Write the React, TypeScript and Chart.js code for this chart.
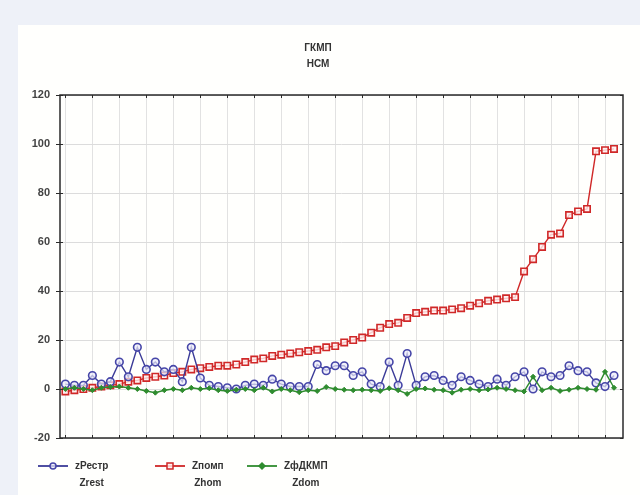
import React, { useEffect, useRef } from 'react';
import { Chart, registerables } from 'chart.js';

Chart.register(...registerables);

const titleLines = ['ГКМП', 'НСМ'];

const cases = [
  1, 2, 3, 4, 5, 6, 7, 8, 9, 10, 11, 12, 13, 14, 15, 16, 17, 18, 19, 20,
  21, 22, 23, 24, 25, 26, 27, 28, 29, 30, 31, 32, 33, 34, 35, 36, 37, 38, 39, 40,
  41, 42, 43, 44, 45, 46, 47, 48, 49, 50, 51, 52, 53, 54, 55, 56, 57, 58, 59, 60,
  61, 62,
];

const zRest = [
  2, 1.5, 1.5, 5.5, 2, 3, 11, 5, 17, 8, 11, 7, 8, 3, 17, 4.5, 1.5, 1, 0.5, 0,
  1.5, 2, 1.5, 4, 2, 1, 1, 1, 10, 7.5, 9.5, 9.5, 5.5, 7, 2, 1, 11, 1.5, 14.5, 1.5,
  5, 5.5, 3.5, 1.5, 5, 3.5, 2, 1, 4, 1.5, 5, 7, 0, 7, 5, 5.5, 9.5, 7.5, 7, 2.5,
  1, 5.5,
];

const zHom = [
  -1, -0.5, 0, 0.5, 1, 1.5, 2, 3, 3.5, 4.5, 5, 5.5, 6.5, 7, 8, 8.5, 9, 9.5, 9.5, 10,
  11, 12, 12.5, 13.5, 14, 14.5, 15, 15.5, 16, 17, 17.5, 19, 20, 21, 23, 25, 26.5, 27, 29, 31,
  31.5, 32, 32, 32.5, 33, 34, 35, 36, 36.5, 37, 37.5, 48, 53, 58, 63, 63.5, 71, 72.5, 73.5, 97,
  97.5, 98,
];

const zDom = [
  0, 0.5, 0, -0.5, 0.5, 0.8, 1, 0.5, 0, -0.8, -1.5, -0.5, 0, -0.5, 0.5, 0, 0.3, -0.5, -0.8, -0.3,
  0, -0.5, 0.5, -1, 0, -0.5, -1.3, -0.5, -0.8, 0.8, 0, -0.3, -0.5, -0.3, -0.5, -0.8, 0.3, -0.5, -2, 0,
  0.2, -0.3, -0.5, -1.5, -0.3, 0, -0.5, -0.2, 0.5, 0, -0.5, -1, 5, -0.5, 0.5, -0.8, -0.3, 0.5, 0, -0.3,
  7, 0.5,
];

const seriesNames = [
  ['zРестр', 'Zrest'],
  ['Zпомп', 'Zhom'],
  ['ZфДКМП', 'Zdom'],
];

const yMin = -20;
const yMax = 120;
const yStep = 20;
const xTickEvery = 3;

const BLUE = '#3b3b98';
const RED = '#d02828';
const GREEN = '#2f8c2f';
const FONT = '"Liberation Sans", Arial, sans-serif';

export default function App() {
  const ref = useRef<HTMLCanvasElement>(null);

  useEffect(() => {
    if (!ref.current) return;

    const bgPlugin = {
      id: 'bg',
      beforeDraw(chart: any) {
        const { ctx, width, height } = chart;
        ctx.save();
        ctx.fillStyle = '#eef1f8';
        ctx.fillRect(0, 0, width, height);
        ctx.fillStyle = '#fffffd';
        ctx.fillRect(18, 25, width - 18, height - 25);
        ctx.restore();
      },
    };

    const framePlugin = {
      id: 'frame',
      afterDraw(chart: any) {
        const { ctx } = chart;
        const { left, right, top, bottom } = chart.chartArea;
        const xs = chart.scales.x;
        const ys = chart.scales.y;
        ctx.save();
        ctx.strokeStyle = '#2a2a2a';
        ctx.lineWidth = 1.5;
        ctx.strokeRect(left, top, right - left, bottom - top);
        ctx.lineWidth = 1;
        const seg = (x1: number, y1: number, x2: number, y2: number) => {
          ctx.beginPath();
          ctx.moveTo(x1, y1);
          ctx.lineTo(x2, y2);
          ctx.stroke();
        };
        xs.ticks.forEach((t: any) => {
          const px = Math.round(xs.getPixelForValue(t.value)) + 0.5;
          seg(px, top, px, top + 3);
          seg(px, bottom, px, bottom - 3);
        });
        ys.ticks.forEach((t: any) => {
          const py = Math.round(ys.getPixelForValue(t.value)) + 0.5;
          seg(left, py, left + 3, py);
          seg(right, py, right - 3, py);
        });

        // title
        ctx.fillStyle = '#333';
        ctx.font = 'bold 10px ' + FONT;
        ctx.textAlign = 'center';
        ctx.textBaseline = 'middle';
        ctx.fillText(titleLines[0], 318, 48);
        ctx.fillText(titleLines[1], 318, 64);

        // legend
        const starts = [38, 155, 247];
        const ly = 466;
        chart.data.datasets.forEach((ds: any, i: number) => {
          const x0 = starts[i];
          ctx.strokeStyle = ds.borderColor;
          ctx.lineWidth = 1.8;
          seg(x0, ly, x0 + 30, ly);
          ctx.lineWidth = 1.5;
          ctx.fillStyle = ds.pointBackgroundColor;
          ctx.strokeStyle = ds.pointBorderColor;
          const cx = x0 + 15;
          if (ds.pointStyle === 'circle') {
            ctx.beginPath();
            ctx.arc(cx, ly, 3, 0, Math.PI * 2);
            ctx.fill();
            ctx.stroke();
          } else if (ds.pointStyle === 'rect') {
            ctx.fillRect(cx - 3, ly - 3, 6, 6);
            ctx.strokeRect(cx - 3, ly - 3, 6, 6);
          } else {
            ctx.beginPath();
            ctx.moveTo(cx, ly - 3);
            ctx.lineTo(cx + 3, ly);
            ctx.lineTo(cx, ly + 3);
            ctx.lineTo(cx - 3, ly);
            ctx.closePath();
            ctx.fill();
            ctx.stroke();
          }
          const names = seriesNames[i];
          ctx.fillStyle = '#333';
          ctx.font = 'bold 10px ' + FONT;
          ctx.textAlign = 'left';
          const tx = x0 + 37;
          ctx.fillText(names[0], tx, ly);
          const w = ctx.measureText(names[0]).width;
          ctx.textAlign = 'center';
          ctx.fillText(names[1], tx + w / 2, ly + 17);
        });
        ctx.restore();
      },
    };

    const chart = new Chart(ref.current, {
      type: 'line',
      data: {
        datasets: [
          {
            label: seriesNames[0].join(' '),
            data: cases.map((c, i) => ({ x: c, y: zRest[i] })),
            borderColor: BLUE,
            borderWidth: 1.4,
            pointStyle: 'circle',
            pointRadius: 3.8,
            pointBorderWidth: 1.6,
            pointBorderColor: '#4646a8',
            pointBackgroundColor: 'rgba(235,235,250,0.7)',
            order: 1,
          },
          {
            label: seriesNames[1].join(' '),
            data: cases.map((c, i) => ({ x: c, y: zHom[i] })),
            borderColor: RED,
            borderWidth: 1.4,
            pointStyle: 'rect',
            pointRadius: 4.5,
            pointBorderWidth: 1.6,
            pointBorderColor: RED,
            pointBackgroundColor: 'rgba(255,240,240,0.8)',
            order: 2,
          },
          {
            label: seriesNames[2].join(' '),
            data: cases.map((c, i) => ({ x: c, y: zDom[i] })),
            borderColor: GREEN,
            borderWidth: 1.4,
            pointStyle: 'rectRot',
            pointRadius: 2.5,
            pointBorderWidth: 1,
            pointBorderColor: GREEN,
            pointBackgroundColor: GREEN,
            order: 0,
          },
        ],
      },
      options: {
        animation: false,
        responsive: false,
        events: [],
        layout: { padding: { left: 0, right: 17, top: 95, bottom: 57 } },
        plugins: {
          legend: { display: false },
          title: { display: false },
          tooltip: { enabled: false },
        },
        scales: {
          x: {
            type: 'linear',
            min: cases[0] - 0.6,
            max: cases[cases.length - 1] + 1,
            border: { display: false },
            grid: { color: '#e2e2e2', lineWidth: 1, drawTicks: false },
            ticks: { display: false },
            afterBuildTicks(scale: any) {
              scale.ticks = cases
                .filter((_, i) => i % xTickEvery === 0)
                .map((v) => ({ value: v }));
            },
            afterFit(scale: any) {
              scale.height = 0;
            },
          },
          y: {
            min: yMin,
            max: yMax,
            border: { display: false },
            grid: { color: '#dcdcdc', lineWidth: 1, tickLength: 4, tickColor: '#2a2a2a' },
            ticks: {
              stepSize: yStep,
              color: '#444',
              padding: 6,
              font: { family: FONT, size: 11, weight: 'bold' },
            },
            afterFit(scale: any) {
              scale.width = 60;
            },
          },
        },
      },
      plugins: [bgPlugin, framePlugin],
    });

    return () => chart.destroy();
  }, []);

  return (
    <div style={{ position: 'absolute', left: 0, top: 0, width: 640, height: 495 }}>
      <canvas ref={ref} width={640} height={495} style={{ width: 640, height: 495, display: 'block' }} />
    </div>
  );
}
